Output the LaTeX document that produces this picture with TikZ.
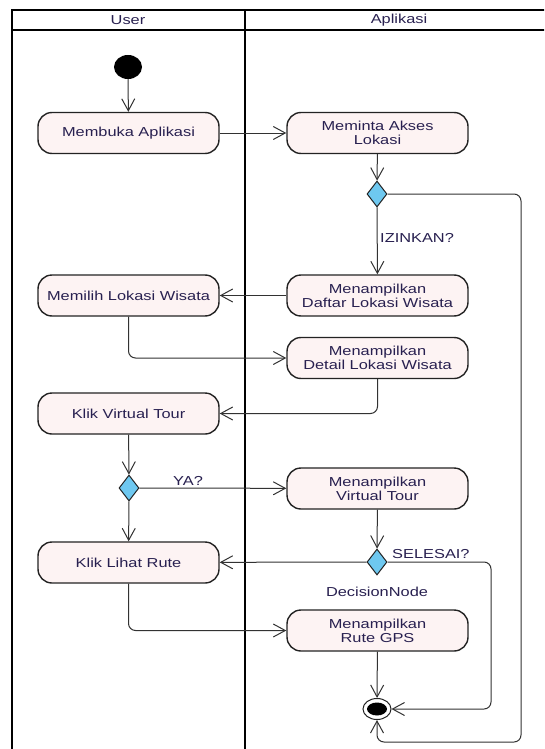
\documentclass[tikz,border=0pt]{standalone}
\usepackage{fontspec}
\setmainfont{Liberation Sans}[FakeStretch=1.26]
\usetikzlibrary{shapes.geometric,arrows.meta}
\definecolor{aksiisi}{RGB}{253,243,243}
\definecolor{cabangisi}{RGB}{110,200,240}
\definecolor{garis}{RGB}{35,35,35}
\definecolor{panah}{RGB}{50,50,50}
\definecolor{teks}{RGB}{40,32,80}
\begin{document}
\begin{tikzpicture}[x=1pt,y=-1pt,
  font=\fontsize{13}{14}\selectfont,
  aksi/.style={draw=garis,line width=1.4pt,fill=aksiisi,rounded corners=14pt,
    minimum width=181pt,minimum height=41pt,align=center,text=teks,inner sep=2pt},
  cabang/.style={diamond,draw=garis,line width=1pt,fill=cabangisi,
    minimum width=20pt,minimum height=26pt,inner sep=0pt},
  alur/.style={draw=panah,line width=1pt,rounded corners=7pt,
    -{Straight Barb[length=12pt,width=13pt]}},
  ket/.style={text=teks,inner sep=1pt}]
\useasboundingbox (0,0) rectangle (544,749);
\clip (0,0) rectangle (544,749);
\fill[white] (0,0) rectangle (544,749);

\draw[line width=2pt] (12,760) -- (12,10) -- (560,10);
\draw[line width=2pt] (12,30) -- (560,30);
\draw[line width=2pt] (245,10) -- (245,760);
\node[ket] (lajuser) at (128,20) {User};
\node[ket] (lajapp) at (399,20) {Aplikasi};

\node[ellipse,fill=black,minimum width=28pt,minimum height=24pt,inner sep=0pt] (start) at (128,67) {};
\node[aksi] (membuka) at (128.5,133) {Membuka Aplikasi};
\node[aksi] (meminta) at (377.5,133) {Meminta Akses\\Lokasi};
\node[cabang] (cekizin) at (377,194) {};
\node[aksi] (daftar) at (377.5,295.5) {Menampilkan\\Daftar Lokasi Wisata};
\node[aksi] (memilih) at (128.5,295.5) {Memilih Lokasi Wisata};
\node[aksi] (detail) at (377.5,358) {Menampilkan\\Detail Lokasi Wisata};
\node[aksi] (klikvt) at (128.5,413.5) {Klik Virtual Tour};
\node[cabang] (cekya) at (129,488) {};
\node[aksi] (tampilvt) at (377.5,488.5) {Menampilkan\\Virtual Tour};
\node[cabang] (cekselesai) at (377,562) {};
\node[aksi] (klikrute) at (128.5,562.5) {Klik Lihat Rute};
\node[ket] (keputusan) at (377,592) {DecisionNode};
\node[aksi] (rutegps) at (377.5,630.5) {Menampilkan\\Rute GPS};
\node[ellipse,draw=garis,line width=1pt,fill=white,minimum width=28pt,minimum height=21pt,inner sep=0pt] (finish) at (377,709) {};
\node[ellipse,fill=black,minimum width=20pt,minimum height=13pt,inner sep=0pt] (finishdot) at (377,709) {};

\coordinate (loopa) at (521,742);
\coordinate (loopb) at (491,709);

\draw[alur] (start) -- (membuka);
\draw[alur] (membuka) -- (meminta);
\draw[alur] (meminta) -- (cekizin);
\draw[alur] (cekizin) -- (daftar);
\node[ket,anchor=west] (izinkan) at (379,238) {IZINKAN?};
\draw[alur] (cekizin.east) -| (loopa) -| (finish.south);
\draw[alur] (daftar) -- (memilih);
\draw[alur] (memilih.south) |- (detail.west);
\draw[alur] (detail.south) |- (klikvt.east);
\draw[alur] (klikvt) -- (cekya);
\draw[alur] (cekya) -- (tampilvt);
\node[ket] (ya) at (188,481) {YA?};
\draw[alur] (cekya) -- (klikrute);
\draw[alur] (tampilvt) -- (cekselesai);
\draw[alur] (cekselesai) -- (klikrute);
\node[ket,anchor=west] (selesai) at (391,554) {SELESAI?};
\draw[alur] (cekselesai.east) -| (loopb) -- (finish.east);
\draw[alur] (klikrute.south) |- (rutegps.west);
\draw[alur] (rutegps) -- (finish);
\end{tikzpicture}
\end{document}
